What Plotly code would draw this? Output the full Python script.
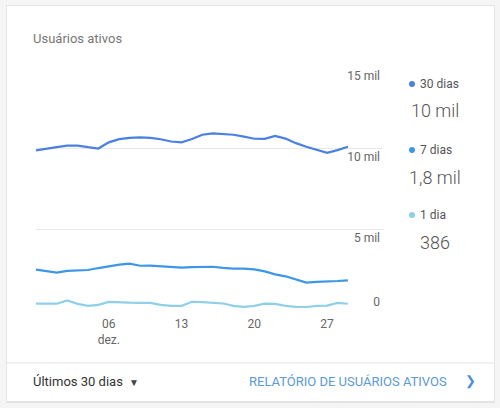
import pandas as pd
import plotly.graph_objects as go

# daily active users, 29 nov - 29 dez
dates = pd.date_range("2018-11-29", periods=31, freq="D")

users_30d = [9850, 9970, 10050, 10150, 10150, 10050, 9970, 10350, 10550, 10630,
             10650, 10620, 10540, 10400, 10350, 10550, 10820, 10900, 10870, 10820,
             10700, 10570, 10560, 10740, 10580, 10300, 10080, 9880, 9700, 9870, 10080]
users_7d = [2490, 2390, 2310, 2420, 2425, 2470, 2590, 2710, 2800, 2860,
            2730, 2740, 2700, 2620, 2610, 2650, 2670, 2670, 2600, 2550,
            2550, 2510, 2380, 2200, 2080, 1880, 1690, 1740, 1750, 1790, 1830]
users_1d = [390, 390, 390, 590, 380, 260, 320, 500, 460, 450,
            440, 440, 320, 250, 260, 510, 490, 440, 400, 260,
            190, 260, 390, 380, 260, 190, 185, 250, 270, 440, 386]

series_names = ["30 dias", "7 dias", "1 dia"]
series_totals = ["10 mil", "1,8 mil", "386"]
colors = ["#4a80e0", "#3d97e6", "#8fd0e8"]

y_ticks = [0, 5000, 10000, 15000]
y_labels = ["", "5 mil", "10 mil", "15 mil"]
x_ticks = ["2018-12-06", "2018-12-13", "2018-12-20", "2018-12-27"]
x_labels = ["06<br>dez.", "13", "20", "27"]

W, H = 500, 408
L, R, T, B = 36, 117, 67, 98


def px(x):
    return (x - L) / (W - L - R)


def py(y):
    return (H - B - y) / (H - T - B)


fig = go.Figure()
for vals, name, c in zip([users_30d, users_7d, users_1d], series_names, colors):
    fig.add_trace(go.Scatter(x=dates, y=vals, name=name, mode="lines",
                             line=dict(color=c, width=2.2), hoverinfo="skip"))

# dummy trace so the "0" label can sit above its line
fig.add_trace(go.Scatter(x=[dates[0]], y=[0], yaxis="y2", mode="markers",
                         marker=dict(opacity=0), hoverinfo="skip", showlegend=False))

shapes = [
    # card + soft shadow
    dict(type="rect", xref="paper", yref="paper", x0=px(6), x1=px(495), y0=py(5), y1=py(403),
         fillcolor="#e4e4e4", line=dict(width=0), layer="below"),
    dict(type="rect", xref="paper", yref="paper", x0=px(7), x1=px(494), y0=py(6), y1=py(401),
         fillcolor="white", line=dict(width=0), layer="below"),
    dict(type="line", xref="paper", yref="paper", x0=px(7), x1=px(494), y0=py(363), y1=py(363),
         line=dict(color="#e3e3e3", width=1), layer="below"),
]

annotations = [
    dict(text="Usuários ativos", x=px(31), y=py(38), xanchor="left",
         font=dict(size=13, color="#777")),
    dict(text="Últimos 30 dias", x=px(31), y=py(381), xanchor="left",
         font=dict(size=13, color="#333")),
    dict(text="▼", x=px(127), y=py(382), xanchor="left",
         font=dict(size=10, color="#444")),
    dict(text="RELATÓRIO DE USUÁRIOS ATIVOS", x=px(247), y=py(381), xanchor="left",
         font=dict(size=13, color="#5b99d8")),
    dict(text="❯", x=px(463), y=py(381), xanchor="left",
         font=dict(size=13, color="#4a90e2")),
]

legend_y = [84, 150, 215]
total_y = [111, 177, 242]
for name, total, c, ly, ty in zip(series_names, series_totals, colors, legend_y, total_y):
    shapes.append(dict(type="circle", xref="paper", yref="paper",
                       x0=px(409), x1=px(415), y0=py(ly - 3), y1=py(ly + 3),
                       fillcolor=c, line=dict(width=0)))
    annotations.append(dict(text=name, x=px(418), y=py(ly), xanchor="left",
                            font=dict(size=12, color="#555")))
    annotations.append(dict(text=total, x=px(435), y=py(ty), xanchor="center",
                            font=dict(family="Roboto Light, Roboto", size=18, color="#555")))

for a in annotations:
    a.update(xref="paper", yref="paper", showarrow=False, yanchor="middle")

fig.update_layout(
    width=W, height=H, autosize=False,
    margin=dict(l=L, r=R, t=T, b=B),
    paper_bgcolor="#f5f5f5", plot_bgcolor="rgba(0,0,0,0)",
    font=dict(family="Roboto", size=12, color="#666"),
    showlegend=False,
    shapes=shapes, annotations=annotations,
    xaxis=dict(type="date", range=[dates[0], dates[-1] + pd.Timedelta(hours=81)],
               tickvals=x_ticks, ticktext=x_labels, showgrid=False, zeroline=False,
               showline=False, ticks="outside", ticklen=3, tickcolor="rgba(0,0,0,0)",
               tickfont=dict(size=12, color="#666")),
    yaxis=dict(range=[0, 15000], side="right", tickvals=y_ticks, ticktext=y_labels,
               ticklabelposition="inside bottom", gridcolor="#e8e8e8", zeroline=False,
               showline=False, tickfont=dict(size=12, color="#666")),
    yaxis2=dict(range=[0, 15000], overlaying="y", side="right", tickvals=[0], ticktext=["0"],
                ticklabelposition="inside top", showgrid=False, zeroline=False,
                showline=False, tickfont=dict(size=12, color="#666")),
)

# the page's default body margin would push the figure 8px off
fig.write_html("out.html", config={"displayModeBar": False},
               post_script="document.body.style.margin='0';")
